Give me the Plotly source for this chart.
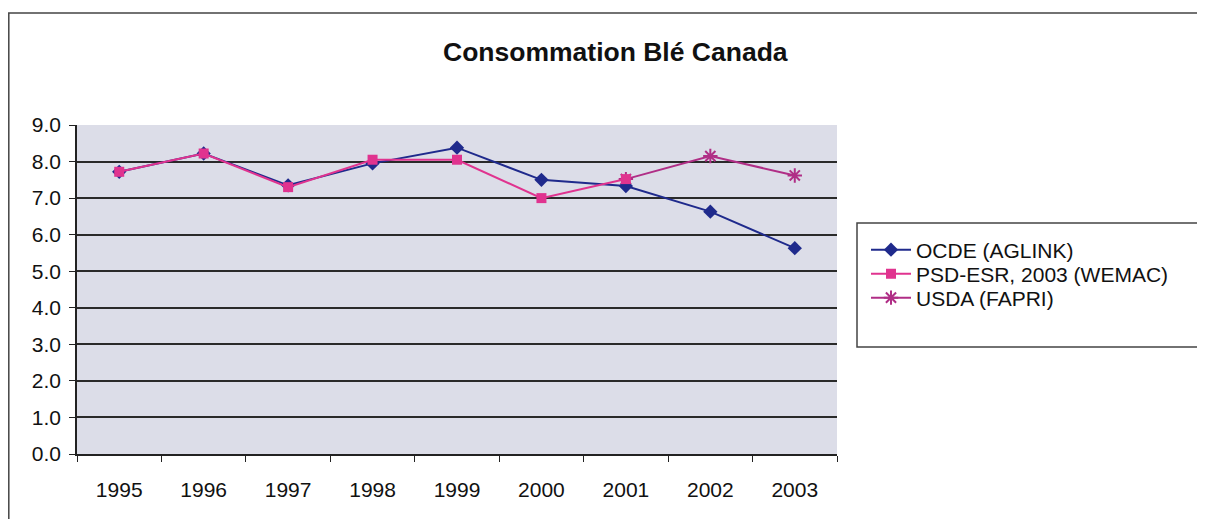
import plotly.graph_objects as go

# data
years = ["1995", "1996", "1997", "1998", "1999", "2000", "2001", "2002", "2003"]
ocde = [7.72, 8.22, 7.35, 7.95, 8.38, 7.50, 7.33, 6.63, 5.63]
psd = [7.72, 8.22, 7.30, 8.05, 8.05, 7.00, 7.52, None, None]
usda = [None, None, None, None, None, None, 7.52, 8.15, 7.62]

OFF = 8  # page body margin
W, H = 1205 - OFF, 519 - OFF
L, R, T, B = 77, 837, 125, 454  # plot area in page px


def px_x(p):
    return (p - L) / (R - L)


def px_y(p):
    return (B - p) / (B - T)


fig = go.Figure()

# USDA drawn first so the PSD squares sit on top of it
fig.add_trace(go.Scatter(
    x=years, y=usda, name="USDA (FAPRI)", mode="lines+markers",
    line=dict(color="#B02E86", width=2),
    marker=dict(symbol="asterisk-open", size=12, line=dict(color="#B02E86", width=2)),
    legend="legend3",
))
fig.add_trace(go.Scatter(
    x=years, y=ocde, name="OCDE (AGLINK)", mode="lines+markers",
    line=dict(color="#1F2A8C", width=2),
    marker=dict(symbol="diamond", size=11, color="#1F2A8C"),
    legend="legend",
))
fig.add_trace(go.Scatter(
    x=years, y=psd, name="PSD-ESR, 2003 (WEMAC)", mode="lines+markers",
    line=dict(color="#E0338F", width=2),
    marker=dict(symbol="square", size=10, color="#E0338F"),
    legend="legend2",
))

font = "Liberation Sans, Arial, sans-serif"


def leg(yc):
    return dict(
        x=px_x(866), y=px_y(yc), xanchor="left", yanchor="middle",
        bgcolor="rgba(0,0,0,0)", borderwidth=0,
        font=dict(size=21), itemwidth=40,
    )


fig.update_layout(
    width=W, height=H,
    margin=dict(l=L - OFF, r=W - (R - OFF), t=T - OFF, b=H - (B - OFF), autoexpand=False),
    paper_bgcolor="white",
    plot_bgcolor="#DCDDE8",
    font=dict(family=font, size=21, color="#111111"),
    showlegend=True,
    legend=leg(250),
    legend2=leg(274),
    legend3=leg(298),
    annotations=[dict(
        text="<b>Consommation Blé Canada</b>", x=px_x(615), y=px_y(52),
        xref="paper", yref="paper", showarrow=False,
        xanchor="center", yanchor="middle",
        font=dict(size=26.5, family=font, color="#111111"),
    )],
    shapes=[
        # chart border
        dict(type="rect", xref="paper", yref="paper",
             x0=px_x(8.8), x1=px_x(1230), y0=px_y(540), y1=px_y(13),
             line=dict(color="#444444", width=1.5), fillcolor="rgba(0,0,0,0)", layer="below"),
        # legend box
        dict(type="rect", xref="paper", yref="paper",
             x0=px_x(857), x1=px_x(1230), y0=px_y(347), y1=px_y(223),
             line=dict(color="#444444", width=1.5), fillcolor="rgba(0,0,0,0)"),
    ],
)

fig.update_xaxes(
    type="category", tickson="boundaries", ticks="outside", ticklen=6,
    tickcolor="#222222", showline=True, linecolor="#222222", linewidth=1.5,
    showgrid=False, ticklabelstandoff=16, tickfont=dict(size=21),
    range=[-0.5, 8.5],
)
fig.update_yaxes(
    range=[0, 9], dtick=1, tickformat=".1f", ticks="outside", ticklen=6,
    tickcolor="#222222", showline=True, linecolor="#222222", linewidth=1.5,
    showgrid=True, gridcolor="#2A2A2A", gridwidth=1.5, zeroline=False,
    tickfont=dict(size=21), ticklabelstandoff=4,
)

fig.write_html("out.html")
